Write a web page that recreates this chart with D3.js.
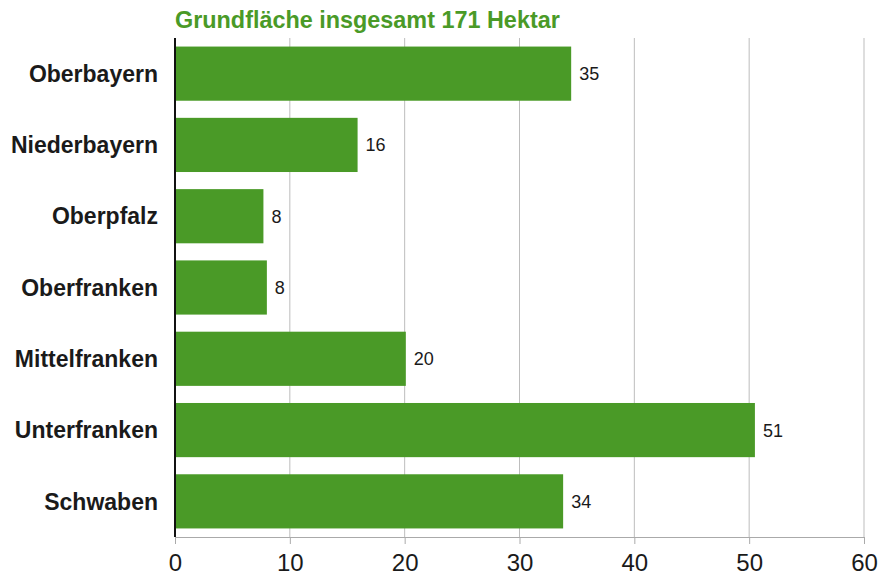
<!DOCTYPE html>
<html><head><meta charset="utf-8">
<script src="https://cdn.jsdelivr.net/npm/d3@7"></script>
<style>body{margin:0;background:#fff}</style>
</head><body>
<svg id="c" width="878" height="576"></svg>
<script>
const categories = ["Oberbayern","Niederbayern","Oberpfalz","Oberfranken","Mittelfranken","Unterfranken","Schwaben"];
const values = [34.5, 15.9, 7.7, 8.0, 20.1, 50.5, 33.8];
const valueLabels = ["35","16","8","8","20","51","34"];
const xTicks = [0,10,20,30,40,50,60];
const title = "Grundfläche insgesamt 171 Hektar";

const green = "#4a9a27";
const svg = d3.select("#c");
const x = d3.scaleLinear().domain([0,60]).range([175,864]);
const y = d3.scaleBand().domain(categories).range([38,537]).paddingInner(0.24).paddingOuter(0.12);

// gridlines
svg.append("g").selectAll("line").data(xTicks.slice(1)).join("line")
  .attr("x1",d=>x(d)).attr("x2",d=>x(d)).attr("y1",38).attr("y2",537)
  .attr("stroke","#bdbdbd").attr("stroke-width",1);

// x axis
const xa = svg.append("g").attr("transform","translate(0,537)")
  .call(d3.axisBottom(x).tickValues(xTicks).tickSize(7).tickPadding(10));
xa.select(".domain").attr("stroke","#aaa");
xa.selectAll(".tick line").attr("stroke","#aaa");
xa.selectAll(".tick text").attr("font-family","'Liberation Sans Narrow','Liberation Sans',sans-serif")
  .attr("font-size","24px").attr("fill","#1a1a1a");

// bars
svg.append("g").selectAll("rect").data(categories).join("rect")
  .attr("x",x(0)).attr("y",d=>y(d))
  .attr("width",(d,i)=>x(values[i])-x(0)).attr("height",y.bandwidth())
  .attr("fill",green);

// y axis line
svg.append("line").attr("x1",x(0)).attr("x2",x(0)).attr("y1",38).attr("y2",537)
  .attr("stroke","#111").attr("stroke-width",2);

// category labels
svg.append("g").selectAll("text").data(categories).join("text")
  .attr("x",158).attr("y",d=>y(d)+y.bandwidth()/2).attr("dy","0.36em")
  .attr("text-anchor","end").attr("font-family","'Liberation Sans',Arial,sans-serif")
  .attr("font-weight","bold").attr("font-size","23px").attr("fill","#1a1a1a").text(d=>d);

// value labels
svg.append("g").selectAll("text").data(categories).join("text")
  .attr("x",(d,i)=>x(values[i])+8).attr("y",d=>y(d)+y.bandwidth()/2).attr("dy","0.36em")
  .attr("font-family","'Liberation Sans',Arial,sans-serif").attr("font-size","18px")
  .attr("fill","#1a1a1a").text((d,i)=>valueLabels[i]);

// title
svg.append("text").attr("x",175).attr("y",28)
  .attr("font-family","'Liberation Sans',Arial,sans-serif").attr("font-weight","bold")
  .attr("font-size","23.4px").attr("fill",green).text(title);
</script>
</body></html>
